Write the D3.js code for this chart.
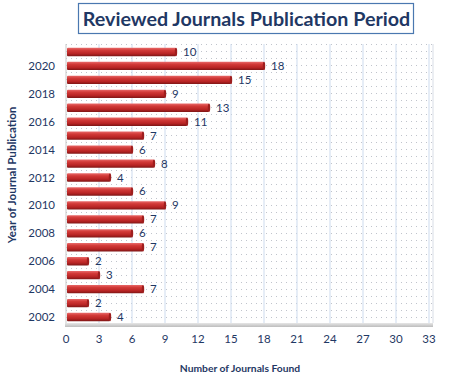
<!DOCTYPE html>
<html><head><meta charset="utf-8">
<script src="https://cdn.jsdelivr.net/npm/d3@7"></script>
<style>body{margin:0;background:#fff;}svg{display:block;font-family:Lato,"Open Sans",sans-serif;}</style>
</head><body>
<script>
const years = [2002,2003,2004,2005,2006,2007,2008,2009,2010,2011,2012,2013,2014,2015,2016,2017,2018,2019,2020,2021];
const counts = [4,2,7,3,2,7,6,7,9,6,4,8,6,7,11,13,9,15,18,10];
const xTicks = [0,3,6,9,12,15,18,21,24,27,30,33];
const yTickLabels = [2002,2004,2006,2008,2010,2012,2014,2016,2018,2020];
const title = "Reviewed Journals Publication Period";
const xTitle = "Number of Journals Found";
const yTitle = "Year of Journal Publication";

(function(){
const W=451,H=377;
const svg=d3.select("body").append("svg").attr("width",W).attr("height",H);
const navy="#1f3864";
const pl=66,pr=432,pt=44,pb=323;
const x=d3.scaleLinear().domain([0,33]).range([pl,429]);
const y=d3.scaleBand().domain(years.slice().reverse()).range([pt+1,pb+1]).paddingInner(0.4).paddingOuter(0.2);

const defs=svg.append("defs");
const pat=defs.append("pattern").attr("id","dots").attr("patternUnits","userSpaceOnUse").attr("width",5).attr("height",7);
pat.append("rect").attr("x",1).attr("y",2).attr("width",1).attr("height",1).attr("fill","#c0c4cc");
const g=defs.append("linearGradient").attr("id","bar").attr("x1",0).attr("x2",0).attr("y1",0).attr("y2",1);
g.append("stop").attr("offset","0%").attr("stop-color","#e86a6a");
g.append("stop").attr("offset","30%").attr("stop-color","#d23a38");
g.append("stop").attr("offset","70%").attr("stop-color","#b82424");
g.append("stop").attr("offset","100%").attr("stop-color","#7e1616");
const fg=defs.append("linearGradient").attr("id","floor").attr("x1",0).attr("x2",0).attr("y1",0).attr("y2",1);
fg.append("stop").attr("offset","0%").attr("stop-color","#e6e6e6");
fg.append("stop").attr("offset","100%").attr("stop-color","#bdbdbd");

svg.append("rect").attr("x",pl).attr("y",pt).attr("width",pr-pl).attr("height",pb-pt).attr("fill","url(#dots)");
svg.append("rect").attr("x",pl-1).attr("y",pb).attr("width",pr-pl+2).attr("height",4).attr("fill","url(#floor)");
svg.append("g").selectAll("line").data(xTicks).join("line")
 .attr("x1",d=>x(d)).attr("x2",d=>x(d)).attr("y1",pt).attr("y2",pb)
 .attr("stroke",d=>d===0?"#c8c8c8":"#cddbee").attr("stroke-width",1);
svg.append("line").attr("x1",pr+1).attr("x2",pr+1).attr("y1",pt).attr("y2",pb).attr("stroke","#d8dde6");

const bars=svg.append("g");
bars.selectAll("rect").data(years).join("rect")
 .attr("x",x(0)+1).attr("y",d=>y(d)).attr("height",y.bandwidth())
 .attr("width",(d,i)=>x(counts[i])-x(0)-1).attr("fill","url(#bar)").attr("rx",1);
bars.selectAll("ellipse").data(years).join("ellipse")
 .attr("cx",(d,i)=>x(counts[i])).attr("cy",d=>y(d)+y.bandwidth()/2)
 .attr("rx",1.2).attr("ry",y.bandwidth()/2).attr("fill","#9e1e1e");
svg.append("g").selectAll("text").data(years).join("text")
 .attr("x",(d,i)=>x(counts[i])+7).attr("y",d=>y(d)+y.bandwidth()/2+4)
 .attr("font-size",11.5).attr("fill",navy).text((d,i)=>counts[i]);

svg.append("g").selectAll("text").data(xTicks).join("text")
 .attr("x",d=>x(d)).attr("y",343).attr("text-anchor","middle")
 .attr("font-size",11.5).attr("fill",navy).text(d=>d);
svg.append("g").selectAll("text").data(yTickLabels).join("text")
 .attr("x",55).attr("y",d=>y(d)+y.bandwidth()/2+4).attr("text-anchor","end")
 .attr("font-size",11.5).attr("fill",navy).text(d=>d);

svg.append("text").attr("x",240).attr("y",372).attr("text-anchor","middle")
 .attr("font-size",10.3).attr("font-weight","bold").attr("fill",navy).text(xTitle);
svg.append("text").attr("transform","translate(16,175) rotate(-90)").attr("text-anchor","middle")
 .attr("font-size",11.6).attr("font-weight","bold").attr("fill",navy).text(yTitle);

svg.append("rect").attr("x",78.5).attr("y",3.5).attr("width",335).attr("height",30).attr("fill","#fff").attr("stroke","#4a78b0").attr("stroke-width",1.2);
svg.append("text").attr("x",246.5).attr("y",25.5).attr("text-anchor","middle")
 .attr("font-size",19.7).attr("font-weight","bold").attr("fill",navy).text(title);
})();
</script>
</body></html>
